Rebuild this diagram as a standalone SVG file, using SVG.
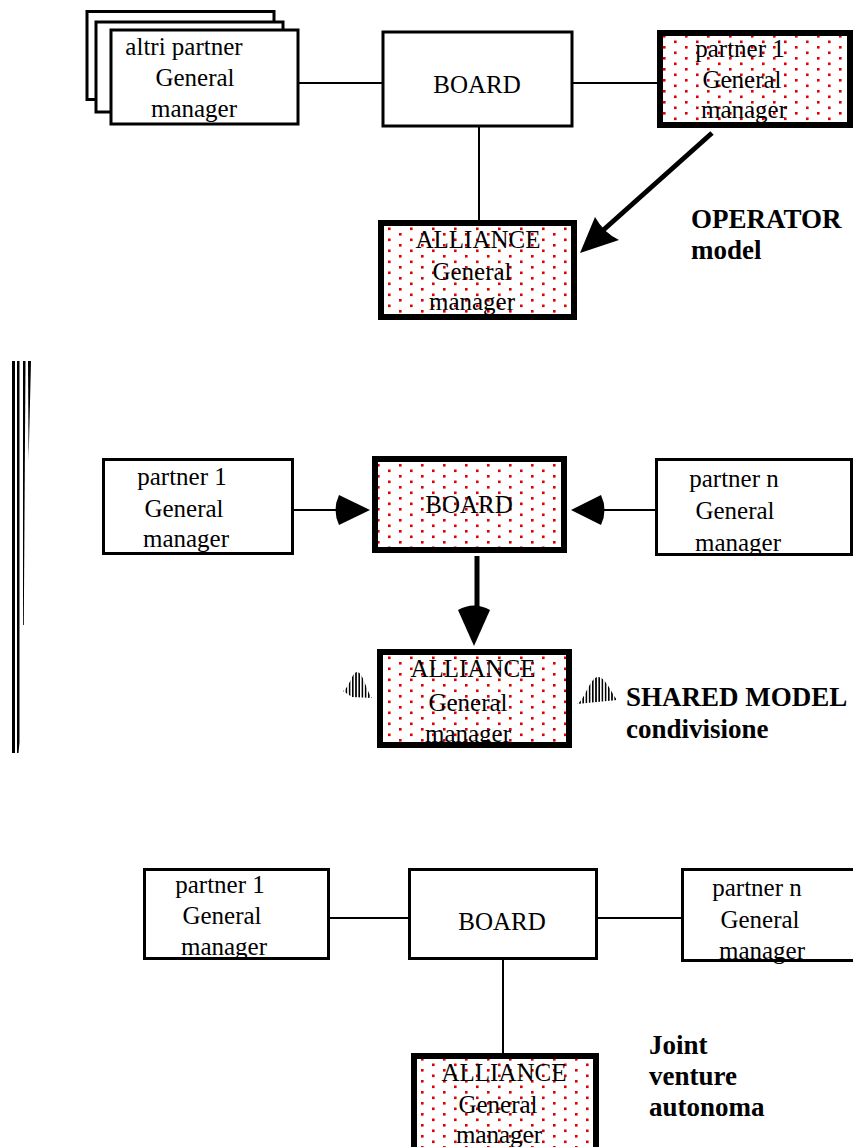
<svg xmlns="http://www.w3.org/2000/svg" width="853" height="1147" viewBox="0 0 853 1147">
<defs>
<pattern id="dots" patternUnits="userSpaceOnUse" width="22" height="11" x="0" y="0">
<rect x="3" y="2" width="2.6" height="2.6" fill="#e00000"/>
<rect x="14" y="7.5" width="2.6" height="2.6" fill="#e00000"/>
</pattern>
<pattern id="hatch" patternUnits="userSpaceOnUse" width="3.2" height="10">
<rect x="0" y="0" width="1.6" height="10" fill="#000"/>
</pattern>
</defs>
<style>
.box{fill:#fff;stroke:#000;stroke-width:3}
.thick{fill:#fff;stroke:#000;stroke-width:6}
.dotfill{fill:url(#dots);stroke:none}
.t{font-family:"Liberation Serif","Times New Roman",serif;font-size:25px;fill:#000;text-anchor:middle}
.b{font-family:"Liberation Serif","Times New Roman",serif;font-size:27px;font-weight:bold;fill:#000}
.ln{stroke:#000;stroke-width:2;fill:none}
.hv{stroke:#000;stroke-width:5;fill:none}
</style>

<g id="connectors">
<line class="ln" x1="299" y1="83" x2="382" y2="83"/>
<line class="ln" x1="573" y1="83" x2="658" y2="83"/>
<line class="ln" x1="479" y1="127" x2="479" y2="221"/>
<line class="hv" x1="712" y1="133" x2="600" y2="233"/>
<path d="M580,253 L595,217 Q604,233 619,240 Z" fill="#000"/>
<line class="ln" x1="294" y1="510" x2="342" y2="510"/>
<path d="M370,510 L339,495 Q332,510 339,525 Z" fill="#000"/>
<line class="ln" x1="600" y1="510" x2="656" y2="510"/>
<path d="M571,510 L601,495 Q608,510 601,525 Z" fill="#000"/>
<line class="hv" x1="477" y1="556" x2="477" y2="612"/>
<path d="M474,646 L458,610 Q474,601 490,610 Z" fill="#000"/>
<line class="ln" x1="330" y1="918" x2="408" y2="918"/>
<line class="ln" x1="598" y1="918" x2="681" y2="918"/>
<line class="ln" x1="503" y1="960" x2="503" y2="1054"/>
</g>

<g id="left-bars">
<rect x="12" y="361" width="3" height="392" fill="#000"/>
<polygon points="17,361 19.5,361 19.5,742 18.5,753 17,753" fill="#000"/>
<polygon points="23,361 25.5,361 23.8,625 23,625" fill="#000"/>
<polygon points="28,361 31,361 28.6,460" fill="#000"/>
</g>

<g id="altri-partner">
<rect class="box" x="87" y="11.5" width="187" height="88"/>
<rect class="box" x="96" y="22" width="187" height="90"/>
<rect class="box" x="111" y="30" width="187" height="94"/>
<text class="t" x="184" y="55">altri partner</text>
<text class="t" x="195" y="86">General</text>
<text class="t" x="194" y="117">manager</text>
</g>

<g id="board-top">
<rect class="box" x="383" y="32" width="189" height="94"/>
<text class="t" x="477" y="93">BOARD</text>
</g>

<g id="partner1-top">
<rect class="thick" x="660" y="33" width="190" height="92"/>
<rect class="dotfill" x="663" y="36" width="184" height="86"/>
<text class="t" x="740" y="57">partner 1</text>
<text class="t" x="742" y="88">General</text>
<text class="t" x="744" y="118">manager</text>
</g>

<g id="alliance-top">
<rect class="thick" x="381" y="223" width="193" height="94"/>
<rect class="dotfill" x="384" y="226" width="187" height="88"/>
<text class="t" x="478" y="248">ALLIANCE</text>
<text class="t" x="472" y="280">General</text>
<text class="t" x="472" y="310">manager</text>
</g>

<text class="b" x="691" y="228">OPERATOR</text>
<text class="b" x="691" y="259">model</text>

<g id="partner1-mid">
<rect class="box" x="103.5" y="459.5" width="189" height="94"/>
<text class="t" x="182" y="485">partner 1</text>
<text class="t" x="184" y="517">General</text>
<text class="t" x="186" y="547">manager</text>
</g>

<g id="board-mid">
<rect class="thick" x="375" y="459" width="189" height="91"/>
<rect class="dotfill" x="378" y="462" width="183" height="85"/>
<text class="t" x="469" y="513">BOARD</text>
</g>

<g id="partnern-mid">
<rect class="box" x="656.5" y="459.5" width="195" height="95"/>
<text class="t" x="734" y="487">partner n</text>
<text class="t" x="735" y="519">General</text>
<text class="t" x="738" y="551">manager</text>
</g>

<g id="alliance-mid">
<rect class="thick" x="380" y="652" width="189" height="93"/>
<rect class="dotfill" x="383" y="655" width="183" height="87"/>
<text class="t" x="473" y="677">ALLIANCE</text>
<text class="t" x="468" y="711">General</text>
<text class="t" x="468" y="742">manager</text>
</g>

<g id="hatch-marks">
<path d="M343,691 C350,687 352,672 357,672 C363,672 366,690 372,698 L352,697 Z" fill="url(#hatch)"/>
<path d="M577,704 C585,700 590,677 598,677 C605,677 610,690 617,700 Z" fill="url(#hatch)"/>
</g>

<text class="b" x="626" y="706">SHARED MODEL</text>
<text class="b" x="626" y="738">condivisione</text>

<g id="partner1-bot">
<rect class="box" x="144.5" y="869.5" width="184" height="89"/>
<text class="t" x="220" y="893">partner 1</text>
<text class="t" x="222" y="924">General</text>
<text class="t" x="224" y="955">manager</text>
</g>

<g id="board-bot">
<rect class="box" x="409.5" y="869.5" width="187" height="89"/>
<text class="t" x="502" y="930">BOARD</text>
</g>

<g id="partnern-bot">
<rect class="box" x="682.5" y="869.5" width="172" height="91"/>
<text class="t" x="757" y="896">partner n</text>
<text class="t" x="760" y="928">General</text>
<text class="t" x="762" y="959">manager</text>
</g>

<g id="alliance-bot">
<rect class="thick" x="414" y="1056" width="182" height="100"/>
<rect class="dotfill" x="417" y="1059" width="176" height="94"/>
<text class="t" x="504" y="1081">ALLIANCE</text>
<text class="t" x="498" y="1113">General</text>
<text class="t" x="499" y="1143">manager</text>
</g>

<text class="b" x="649" y="1054">Joint</text>
<text class="b" x="649" y="1085">venture</text>
<text class="b" x="649" y="1116">autonoma</text>
</svg>
